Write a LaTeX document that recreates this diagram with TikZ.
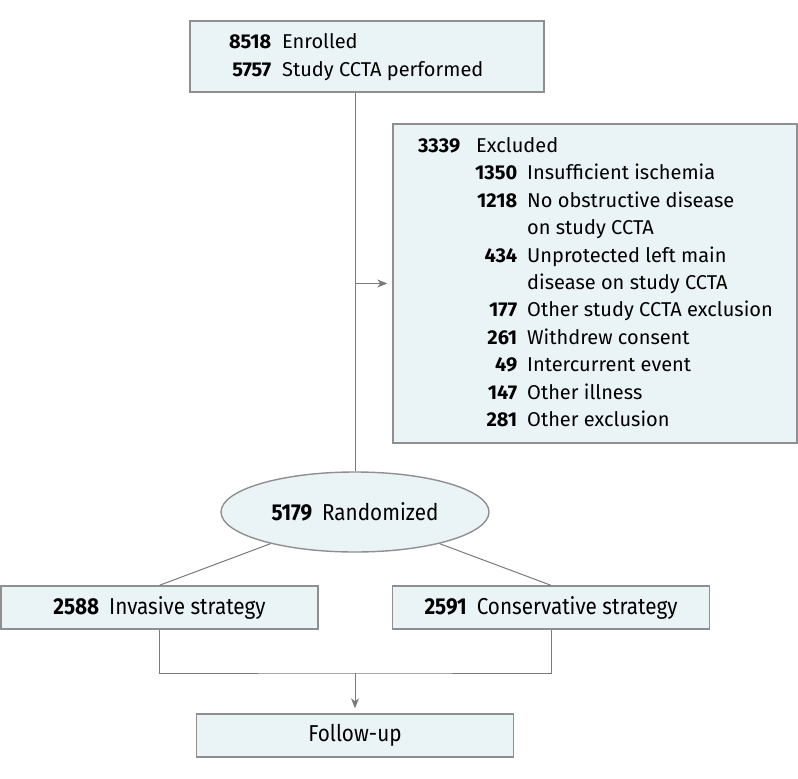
\documentclass[tikz,border=0pt]{standalone}
\usepackage{fontspec}
\usepackage{array}
\setmainfont{Fira Sans}
\newfontfamily\condfont[FakeStretch=0.9]{Fira Sans}
\usetikzlibrary{shapes.geometric}
\usetikzlibrary{arrows.meta}

\definecolor{boxfill}{HTML}{EAF3F5}
\definecolor{boxline}{HTML}{8F8F8F}
\definecolor{linkgray}{HTML}{7A7A7A}

\newcommand{\boxfont}{\fontsize{20}{27.4}\selectfont}
\newcommand{\lowfont}{\condfont\fontsize{23}{27}\selectfont}

\tikzset{
  flowbox/.style={draw=boxline, fill=boxfill, line width=1.4pt, inner sep=0pt},
  boxtext/.style={inner sep=0pt, anchor=west, font=\boxfont},
  lowbox/.style={flowbox, minimum width=317pt, minimum height=43pt, font=\lowfont},
  link/.style={draw=linkgray, line width=1pt},
  linkarrow/.style={link, -{Stealth[length=10pt, width=8pt, inset=3pt]}, shorten >=5pt},
}

\begin{document}
\begin{tikzpicture}[x=1pt, y=-1pt]
    \useasboundingbox (0,0) rectangle (798,779);

    % boxes
    \node[flowbox, minimum width=354pt, minimum height=71pt] (enrol) at (367,56.5) {};
    \node[boxtext] (enroltxt) at (222,57) {%
      \begin{tabular}{@{}w{r}{49pt}@{\hspace{11pt}}l@{}}
        \textbf{8518} & Enrolled\\
        \textbf{5757} & Study CCTA performed
      \end{tabular}};

    \node[flowbox, minimum width=404pt, minimum height=319pt] (excl) at (595,283.5) {};
    \node[boxtext] (excltxt) at (412,284) {%
      \begin{tabular}{@{}w{r}{48pt}@{\hspace{10pt}}w{r}{47pt}@{\hspace{10pt}}l@{}}
        \textbf{3339} & \multicolumn{2}{l@{}}{Excluded}\\
        & \textbf{1350} & Insufficient ischemia\\
        & \textbf{1218} & No obstructive disease\\
        & & on study CCTA\\
        & \textbf{434} & Unprotected left main\\
        & & disease on study CCTA\\
        & \textbf{177} & Other study CCTA exclusion\\
        & \textbf{261} & Withdrew consent\\
        & \textbf{49} & Intercurrent event\\
        & \textbf{147} & Other illness\\
        & \textbf{281} & Other exclusion
      \end{tabular}};

    \node[flowbox, ellipse, minimum width=268pt, minimum height=80pt, font=\lowfont] (rand) at (355,512)
      {\textbf{5179}\hspace{10pt}Randomized};

    \node[lowbox] (inv) at (159.5,607.5) {\textbf{2588}\hspace{10pt}Invasive strategy};
    \node[lowbox] (cons) at (551,607.5) {\textbf{2591}\hspace{10pt}Conservative strategy};
    \node[lowbox] (follow) at (355,735.5) {Follow-up};

    % connectors
    \coordinate (split) at (rand.north |- excl.west);
    \coordinate (merge) at (355,673);
    \draw[link] (enrol.south -| rand.north) -- (rand.north);
    \draw[linkarrow] (split) -- (excl.west);
    \draw[link] (rand) -- (inv.north);
    \draw[link] (rand) -- (cons.north);
    \draw[link] (inv.south) |- (merge) -| (cons.south);
    \draw[linkarrow] (merge) -- (follow.north);
\end{tikzpicture}
\end{document}
